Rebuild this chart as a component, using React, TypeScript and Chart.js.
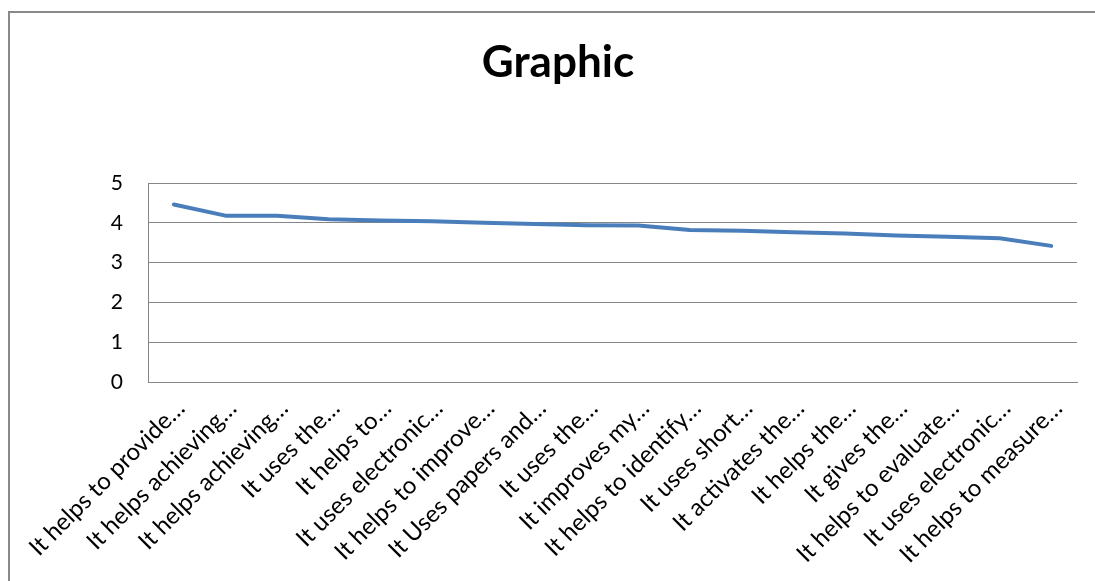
import { useEffect, useRef } from "react";
import { Chart, registerables } from "chart.js";

Chart.register(...registerables);

const chartTitle = "Graphic";

const categories = [
  "It helps to provide…",
  "It helps achieving…",
  "It helps achieving…",
  "It uses the…",
  "It helps to…",
  "It uses electronic…",
  "It helps to improve…",
  "It Uses papers and…",
  "It uses the…",
  "It improves my…",
  "It helps to identify…",
  "It uses short…",
  "It activates the…",
  "It helps the…",
  "It gives the…",
  "It helps to evaluate…",
  "It uses electronic…",
  "It helps to measure…",
];

const values = [4.46, 4.18, 4.18, 4.09, 4.06, 4.04, 4.0, 3.97, 3.94, 3.93, 3.82, 3.8, 3.76, 3.73, 3.68, 3.65, 3.61, 3.42];

const yMin = 0;
const yMax = 5;
const yStep = 1;

const FONT = "Lato, 'Liberation Sans', sans-serif";

export default function App() {
  const ref = useRef<HTMLCanvasElement>(null);

  useEffect(() => {
    const titlePlugin = {
      id: "customTitle",
      afterDraw(chart: any) {
        const ctx = chart.ctx;
        ctx.save();
        ctx.font = `bold 44px ${FONT}`;
        ctx.fillStyle = "#000";
        ctx.textAlign = "center";
        ctx.textBaseline = "middle";
        ctx.fillText(chartTitle, 558, 63);
        ctx.restore();
      },
    };

    const chart = new Chart(ref.current!, {
      type: "line",
      data: {
        labels: categories,
        datasets: [
          {
            data: values,
            borderColor: "#4A7EBB",
            borderWidth: 4,
            pointRadius: 0,
            tension: 0,
            borderCapStyle: "round",
            borderJoinStyle: "round",
            fill: false,
          },
        ],
      },
      options: {
        animation: false,
        responsive: false,
        layout: { padding: { left: 0, right: 18, top: 183, bottom: 0 } },
        plugins: {
          legend: { display: false },
          tooltip: { enabled: false },
          title: { display: false },
        },
        scales: {
          x: {
            offset: true,
            grid: { display: false, drawTicks: false },
            border: { display: true, color: "#868686", width: 1 },
            ticks: {
              autoSkip: false,
              minRotation: 45,
              maxRotation: 45,
              padding: 12,
              labelOffset: 7,
              color: "#000",
              font: { family: FONT, size: 24 },
            },
            afterFit: (s: any) => {
              s.height = 581 - 382;
            },
          },
          y: {
            min: yMin,
            max: yMax,
            ticks: {
              stepSize: yStep,
              padding: 25,
              color: "#000",
              font: { family: FONT, size: 21 },
            },
            grid: { color: "#868686", drawTicks: false, lineWidth: 1 },
            border: { display: true, color: "#868686", width: 1 },
            afterFit: (s: any) => {
              s.width = 148;
            },
          },
        },
      },
      plugins: [titlePlugin],
    } as any);
    return () => chart.destroy();
  }, []);

  return (
    <div
      style={{
        position: "fixed",
        left: 0,
        top: 0,
        width: 1095,
        height: 581,
        overflow: "hidden",
        background: "#fff",
      }}
    >
      <div
        style={{
          position: "absolute",
          left: 8,
          top: 11,
          width: 1200,
          height: 700,
          border: "2px solid #898989",
          boxSizing: "border-box",
        }}
      />
      <canvas
        ref={ref}
        width={1095}
        height={581}
        style={{ position: "absolute", left: 0, top: 0, width: 1095, height: 581 }}
      />
    </div>
  );
}
